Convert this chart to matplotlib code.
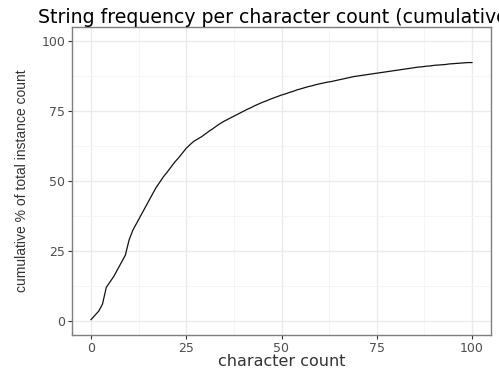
import numpy as np
import matplotlib
matplotlib.use("Agg")
import matplotlib.pyplot as plt

plt.rcParams['font.family'] = ['DejaVu Sans']

# character count -> cumulative % of total instance count
char_count = list(range(0, 101))
cum_pct = [0.5, 2.0, 3.5, 6.0, 12.0, 14.0, 16.0, 18.5, 21.0, 23.5,
           29.0, 32.5, 35.0, 37.5, 40.0, 42.5, 45.0, 47.5, 49.5, 51.5,
           53.2, 55.0, 56.8, 58.3, 60.0, 61.7, 63.0, 64.2, 65.0, 65.8,
           66.8, 67.8, 68.7, 69.7, 70.6, 71.4, 72.1, 72.8, 73.5, 74.2,
           74.9, 75.6, 76.2, 76.9, 77.5, 78.1, 78.6, 79.2, 79.7, 80.2,
           80.7, 81.1, 81.6, 82.0, 82.5, 82.9, 83.3, 83.7, 84.0, 84.4,
           84.7, 85.0, 85.3, 85.5, 85.8, 86.1, 86.4, 86.7, 87.0, 87.3,
           87.5, 87.7, 87.9, 88.1, 88.3, 88.5, 88.7, 88.9, 89.1, 89.3,
           89.5, 89.7, 89.9, 90.1, 90.3, 90.5, 90.7, 90.8, 91.0, 91.1,
           91.3, 91.4, 91.5, 91.6, 91.8, 91.9, 92.0, 92.1, 92.2, 92.3,
           92.3]
ticks = [0, 25, 50, 75, 100]

fig = plt.figure(figsize=(4.99, 3.69), dpi=100)
ax = fig.add_axes([72/499, 1-335/369, (491-72)/499, (335-27)/369])

ax.plot(char_count, cum_pct, color='#111111', lw=0.9)

ax.set_xlim(-5, 105)
ax.set_ylim(-5, 105)
ax.set_xticks(ticks)
ax.set_yticks(ticks)
ax.set_xticks([12.5, 37.5, 62.5, 87.5], minor=True)
ax.set_yticks([12.5, 37.5, 62.5, 87.5], minor=True)
ax.grid(which='major', color='#EBEBEB', lw=1.0)
ax.grid(which='minor', color='#F4F4F4', lw=0.6)
ax.set_axisbelow(True)
for s in ax.spines.values():
    s.set_color('#7F7F7F')
    s.set_linewidth(1.0)
ax.tick_params(which='major', length=3, color='#333333', labelcolor='#4D4D4D',
               labelsize=9, pad=2)
ax.tick_params(which='minor', length=0)

ax.set_xlabel('character count', fontsize=11.5, labelpad=-1, color='#333333')
ax.set_ylabel('cumulative % of total instance count', fontsize=10,
              labelpad=9, color='#333333', family='Liberation Sans')
# title runs past the right edge, as in the original
fig.text(38/499, 1-23/369, 'String frequency per character count (cumulative)',
         fontsize=13.6, va='baseline', ha='left')

fig.savefig('out.png', dpi=100)
